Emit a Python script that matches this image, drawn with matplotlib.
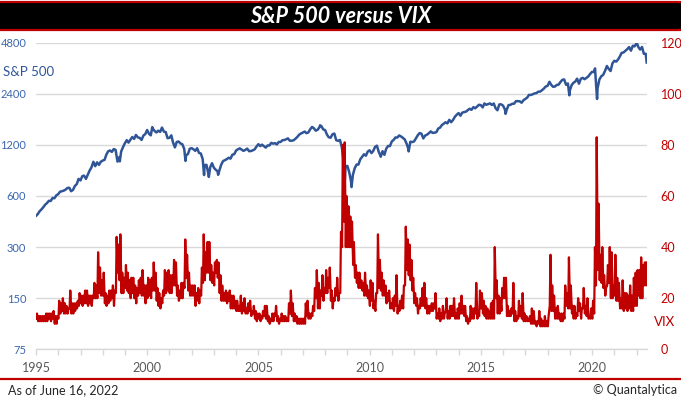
import numpy as np
import pandas as pd
import matplotlib
matplotlib.use("Agg")
import matplotlib.pyplot as plt
import matplotlib.dates as mdates
from matplotlib.patches import Rectangle
from matplotlib.lines import Line2D

plt.rcParams['font.family'] = ['Lato', 'DejaVu Sans']

# ---------------- data ----------------
# S&P 500 month-end closes, Jan 1995 .. Jun 2022 (last = June 16, 2022)
spx_close = [
    470, 487, 500, 515, 533, 545, 562, 561, 584, 582, 605, 615,          # 1995
    636, 640, 645, 654, 669, 671, 640, 652, 687, 705, 757, 741,          # 1996
    786, 791, 757, 801, 848, 885, 954, 899, 947, 915, 955, 970,          # 1997
    980, 1049, 1101, 1112, 1091, 1134, 1121, 957, 1017, 1099, 1164, 1229,  # 1998
    1280, 1238, 1286, 1335, 1302, 1373, 1329, 1320, 1283, 1363, 1389, 1469,  # 1999
    1394, 1366, 1499, 1452, 1421, 1455, 1431, 1518, 1437, 1429, 1315, 1320,  # 2000
    1366, 1240, 1160, 1249, 1256, 1224, 1211, 1134, 1041, 1060, 1139, 1148,  # 2001
    1130, 1107, 1147, 1077, 1067, 990, 912, 916, 815, 886, 936, 880,     # 2002
    856, 841, 848, 917, 964, 975, 990, 1008, 996, 1051, 1058, 1112,      # 2003
    1131, 1145, 1126, 1107, 1121, 1141, 1102, 1104, 1115, 1130, 1174, 1212,  # 2004
    1181, 1204, 1181, 1157, 1191, 1191, 1234, 1220, 1229, 1207, 1249, 1248,  # 2005
    1280, 1281, 1295, 1311, 1270, 1270, 1277, 1304, 1336, 1378, 1401, 1418,  # 2006
    1438, 1407, 1421, 1482, 1531, 1503, 1455, 1474, 1527, 1549, 1481, 1468,  # 2007
    1379, 1331, 1323, 1386, 1400, 1280, 1267, 1283, 1166, 969, 896, 903,     # 2008
    826, 735, 798, 873, 919, 919, 987, 1021, 1057, 1036, 1096, 1115,     # 2009
    1074, 1104, 1169, 1187, 1089, 1031, 1102, 1049, 1141, 1183, 1181, 1258,  # 2010
    1286, 1327, 1326, 1364, 1345, 1321, 1292, 1219, 1131, 1253, 1247, 1258,  # 2011
    1312, 1366, 1408, 1398, 1310, 1362, 1379, 1407, 1441, 1412, 1416, 1426,  # 2012
    1498, 1515, 1569, 1598, 1631, 1606, 1686, 1633, 1682, 1757, 1806, 1848,  # 2013
    1783, 1859, 1872, 1884, 1924, 1960, 1931, 2003, 1972, 2018, 2068, 2059,  # 2014
    1995, 2105, 2068, 2086, 2107, 2063, 2104, 1972, 1920, 2079, 2080, 2044,  # 2015
    1940, 1932, 2060, 2065, 2097, 2099, 2174, 2171, 2168, 2126, 2199, 2239,  # 2016
    2279, 2364, 2363, 2384, 2412, 2423, 2470, 2472, 2519, 2575, 2648, 2674,  # 2017
    2824, 2714, 2641, 2648, 2705, 2718, 2816, 2902, 2914, 2712, 2760, 2507,  # 2018
    2704, 2784, 2834, 2946, 2752, 2942, 2980, 2926, 2977, 3038, 3141, 3231,  # 2019
    3226, 2954, 2585, 2912, 3044, 3100, 3271, 3500, 3363, 3270, 3622, 3756,  # 2020
    3714, 3811, 3973, 4181, 4204, 4298, 4395, 4523, 4308, 4605, 4567, 4766,  # 2021
    4516, 4374, 4530, 4132, 4132, 3667,                                    # 2022
]
# notable intra-month turning points of the S&P 500
spx_extra_dates = ['1995-01-03', '1998-10-08', '2000-03-24', '2001-09-21', '2002-07-23',
                   '2002-10-09', '2003-03-11', '2007-10-09', '2008-11-20', '2009-03-09',
                   '2010-07-02', '2011-10-03', '2016-02-11', '2018-12-24', '2020-02-19',
                   '2020-03-23', '2022-01-03']
spx_extra_values = [459, 960, 1527, 966, 797, 777, 800, 1565, 752, 677,
                    1022, 1099, 1829, 2351, 3386, 2237, 4797]

# VIX monthly low / high, Jan 1995 .. Jun 2022
vix_low = [
    12, 11, 11, 11, 11, 11, 11, 12, 11, 12, 10, 10,   # 1995
    12, 14, 15, 14, 14, 14, 16, 14, 14, 15, 16, 17,   # 1996
    18, 17, 18, 18, 17, 18, 17, 20, 20, 20, 22, 21,   # 1997
    21, 18, 17, 18, 19, 20, 17, 22, 30, 27, 22, 22,   # 1998
    24, 23, 22, 20, 22, 20, 18, 21, 22, 21, 21, 18,   # 1999
    20, 21, 20, 23, 23, 19, 17, 16, 18, 21, 22, 23,   # 2000
    22, 22, 25, 25, 21, 19, 20, 20, 24, 28, 23, 21,   # 2001
    21, 21, 17, 19, 18, 21, 26, 27, 30, 30, 27, 26,   # 2002
    25, 30, 28, 22, 19, 19, 19, 18, 19, 16, 16, 16,   # 2003
    15, 15, 15, 14, 15, 14, 14, 15, 13, 14, 12, 11,   # 2004
    12, 11, 12, 13, 12, 11, 10, 11, 11, 13, 11, 10,   # 2005
    11, 11, 11, 11, 11, 14, 13, 11, 11, 10, 10, 10,   # 2006
    10, 10, 13, 12, 12, 13, 15, 20, 16, 16, 21, 19,   # 2007
    22, 22, 24, 19, 16, 19, 21, 19, 22, 40, 50, 40,   # 2008
    40, 40, 40, 33, 28, 26, 24, 24, 23, 21, 21, 20,   # 2009
    17, 19, 16, 15, 22, 24, 23, 21, 21, 18, 19, 16,   # 2010
    16, 15, 17, 14, 15, 16, 16, 25, 31, 29, 27, 23,   # 2011
    18, 17, 14, 16, 17, 17, 16, 14, 14, 15, 15, 16,   # 2012
    12, 12, 11, 12, 12, 15, 12, 12, 13, 13, 12, 12,   # 2013
    12, 14, 14, 13, 11, 10, 11, 12, 12, 14, 12, 13,   # 2014
    16, 14, 13, 12, 12, 12, 12, 12, 20, 14, 14, 15,   # 2015
    20, 20, 13, 13, 13, 14, 11, 11, 12, 13, 12, 11,   # 2016
    11, 11, 11, 10, 10, 10, 9, 10, 9, 9, 9, 9,        # 2017
    9, 17, 15, 15, 12, 12, 12, 11, 11, 12, 17, 16,    # 2018
    16, 14, 12, 12, 13, 15, 12, 16, 14, 13, 12, 12,   # 2019
    12, 14, 25, 31, 27, 26, 24, 21, 25, 26, 20, 20,   # 2020
    21, 19, 19, 16, 16, 15, 16, 15, 16, 15, 15, 17,   # 2021
    17, 21, 20, 20, 25, 25,                           # 2022
]
vix_high = [
    14, 13, 13, 13, 13, 14, 14, 14, 14, 15, 13, 13,   # 1995
    19, 18, 20, 18, 17, 16, 23, 18, 18, 18, 19, 22,   # 1996
    21, 21, 23, 23, 21, 21, 21, 26, 25, 38, 32, 27,   # 1997
    30, 22, 21, 23, 23, 25, 23, 44, 41, 45, 30, 28,   # 1998
    33, 30, 27, 28, 28, 25, 24, 27, 28, 31, 25, 25,   # 1999
    28, 27, 28, 34, 30, 24, 22, 20, 23, 31, 30, 31,   # 2000
    29, 29, 35, 34, 25, 23, 26, 26, 43, 37, 30, 25,   # 2001
    25, 25, 22, 24, 23, 32, 45, 38, 42, 42, 33, 30,   # 2002
    34, 35, 34, 29, 25, 22, 23, 22, 23, 21, 21, 19,   # 2003
    19, 17, 21, 18, 20, 16, 18, 19, 15, 17, 15, 14,   # 2004
    14, 13, 15, 17, 17, 13, 12, 14, 14, 17, 13, 12,   # 2005
    14, 13, 13, 12, 18, 23, 18, 14, 13, 12, 12, 12,   # 2006
    12, 18, 19, 14, 14, 17, 24, 31, 26, 23, 29, 24,   # 2007
    31, 28, 32, 23, 20, 24, 28, 22, 46, 80, 81, 60,   # 2008
    56, 52, 50, 42, 33, 30, 30, 27, 26, 30, 25, 23,   # 2009
    27, 26, 19, 22, 45, 35, 30, 27, 25, 22, 23, 18,   # 2010
    20, 21, 29, 17, 19, 21, 25, 48, 43, 41, 35, 28,   # 2011
    22, 20, 17, 20, 24, 26, 20, 17, 17, 18, 18, 22,   # 2012
    14, 16, 14, 17, 14, 20, 15, 17, 17, 20, 14, 16,   # 2013
    18, 21, 17, 17, 13, 12, 17, 16, 16, 26, 14, 23,   # 2014
    22, 19, 17, 16, 15, 18, 19, 40, 27, 21, 20, 24,   # 2015
    28, 28, 17, 15, 16, 26, 15, 13, 19, 17, 22, 14,   # 2016
    13, 12, 13, 16, 15, 11, 11, 15, 12, 11, 13, 11,   # 2017
    13, 37, 25, 21, 16, 17, 14, 14, 14, 25, 22, 36,   # 2018
    25, 17, 17, 14, 20, 18, 16, 24, 17, 20, 13, 16,   # 2019
    19, 40, 83, 57, 37, 40, 29, 24, 33, 40, 38, 25,   # 2020
    37, 28, 26, 20, 27, 22, 22, 21, 25, 21, 28, 30,   # 2021
    31, 31, 36, 33, 34, 34,                           # 2022
]

left_ticks = [75, 150, 300, 600, 1200, 2400, 4800]
right_ticks = [0, 20, 40, 60, 80, 100, 120]
title_text = "S&P 500 versus VIX"
left_label = "S&P 500"
right_label = "VIX"
footer_left = "As of June 16, 2022"
footer_right = "© Quantalytica"

# ---------------- build series ----------------
month_starts = pd.date_range("1995-01-01", periods=len(spx_close), freq="MS")
spx_dates = month_starts + pd.offsets.MonthEnd(0)
spx_dates = spx_dates[:-1].append(pd.DatetimeIndex(["2022-06-16"]))
spx = pd.Series(spx_close, index=spx_dates)
spx = pd.concat([spx, pd.Series(spx_extra_values, index=pd.to_datetime(spx_extra_dates))]).sort_index()

low_dates = month_starts + pd.Timedelta(days=4)
high_dates = month_starts + pd.Timedelta(days=16)
vix = pd.concat([pd.Series(vix_low, index=low_dates),
                 pd.Series(vix_high, index=high_dates)]).sort_index()

# ---------------- figure ----------------
W, H = 681, 399
fig = plt.figure(figsize=(W / 100, H / 100), dpi=100)
fig.patch.set_facecolor("white")

# title bar
fig.patches.append(Rectangle((0, 1 - 30 / H), 1, 28 / H, transform=fig.transFigure,
                             facecolor="black", edgecolor="none", zorder=0))
for yy in (2, 30):
    fig.add_artist(Line2D([0, 1], [1 - yy / H, 1 - yy / H], transform=fig.transFigure,
                          color="#C00000", lw=1.6))
fig.text(0.5, 1 - 16.5 / H, title_text, color="white", fontsize=15.5, fontweight="bold",
         fontstyle="italic", ha="center", va="center")

# footer
fig.add_artist(Line2D([0, 1], [1 - 378.5 / H, 1 - 378.5 / H], transform=fig.transFigure,
                      color="#C00000", lw=1.6))
fig.text(8 / W, 1 - 390 / H, footer_left, color="#262626", fontsize=9, ha="left", va="center")
fig.text(677 / W, 1 - 390 / H, footer_right, color="#262626", fontsize=9, ha="right", va="center")

x0, x1 = 36, 646.7
y_top, y_bot = 42.7, 349.3
ax = fig.add_axes([x0 / W, 1 - y_bot / H, (x1 - x0) / W, (y_bot - y_top) / H])
ax.set_yscale("log", base=2)
ax.set_ylim(75, 4800)
ax.set_xlim(pd.Timestamp("1995-01-01"), pd.Timestamp("2022-06-16"))
ax.set_yticks(left_ticks)
ax.set_yticklabels([str(t) for t in left_ticks])
ax.yaxis.set_minor_locator(matplotlib.ticker.NullLocator())
ax.grid(axis="y", color="#d9d9d9", lw=1)
ax.set_axisbelow(True)
for s in ("top", "left", "right"):
    ax.spines[s].set_visible(False)
ax.spines["bottom"].set_color("#d9d9d9")
ax.spines["bottom"].set_linewidth(1)
ax.tick_params(axis="y", length=0, pad=7, labelsize=8, labelcolor="#3A66B0")
ax.xaxis.set_major_locator(mdates.YearLocator(5))
ax.xaxis.set_major_formatter(mdates.DateFormatter("%Y"))
ax.xaxis.set_minor_locator(mdates.YearLocator(1))
ax.tick_params(axis="x", which="both", length=4, color="#d9d9d9", width=1,
               labelsize=9, labelcolor="#595959", pad=5)

ax.plot(spx.index, spx.values, color="#2F5597", lw=1.8, zorder=2)

ax2 = ax.twinx()
ax2.set_ylim(0, 120)
ax2.set_yticks(right_ticks)
ax2.set_yticklabels([str(t) for t in right_ticks])
for s in ("top", "left", "right", "bottom"):
    ax2.spines[s].set_visible(False)
ax2.tick_params(axis="y", length=0, pad=10, labelsize=9, labelcolor="#C00000")
ax2.plot(vix.index, vix.values, color="#C00000", lw=1.6, zorder=3)

fig.text(3 / W, 1 - 72 / H, left_label, color="#2F5597", fontsize=9.5, ha="left", va="center")
fig.text(665 / W, 1 - 322 / H, right_label, color="#C00000", fontsize=9.5, ha="center", va="center")

fig.savefig("out.png", dpi=100)
